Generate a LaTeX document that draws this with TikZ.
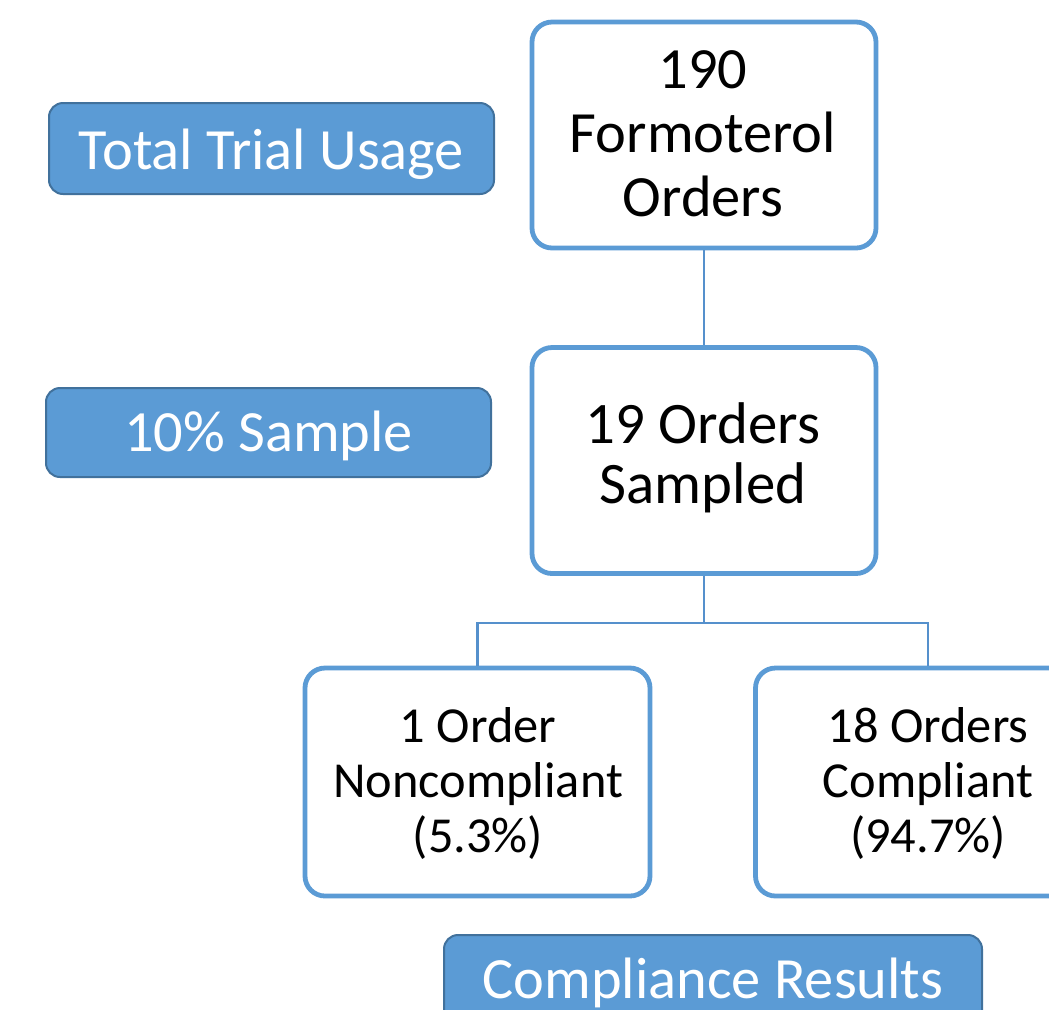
\documentclass[tikz,border=0pt]{standalone}
\usepackage{fontspec}
\setmainfont{Carlito}
\definecolor{boxblue}{HTML}{5B9BD5}
\definecolor{labelborder}{HTML}{41719C}
\definecolor{linkblue}{HTML}{5590CC}
\begin{document}
\begin{tikzpicture}[x=0.5pt,y=-0.5pt,
  whitebox/.style={draw=boxblue, line width=2.4pt, fill=white, rounded corners=10pt, inner sep=0pt},
  bigbox/.style={whitebox, minimum width=172pt, minimum height=113pt},
  smallbox/.style={whitebox, minimum width=172.5pt, minimum height=114pt},
  bigtext/.style={align=center, inner sep=0pt, anchor=base, font=\fontsize{29.2}{32}\selectfont},
  midtext/.style={bigtext, font=\fontsize{29.4}{30}\selectfont},
  smalltext/.style={align=center, inner sep=0pt, anchor=base, font=\fontsize{25.2}{27.5}\selectfont},
  labelbox/.style={draw=labelborder, line width=1pt, fill=boxblue, rounded corners=7pt, inner sep=0pt},
  labeltext/.style={text=white, inner sep=0pt, anchor=base, font=\fontsize{29.2}{32}\selectfont},
  link/.style={draw=linkblue, line width=1.1pt}]
\useasboundingbox (0,0) rectangle (1049,1009);
\clip (0,0) rectangle (1049,1009);
\fill[white] (0,0) rectangle (1049,1009);
\coordinate (split) at (704,623);
\node[bigbox] (top) at (704,135) {};
\node[bigbox] (mid) at (704,460.5) {};
\node[smallbox] (left) at (477.5,782) {};
\node[smallbox] (right) at (928,782) {};
\node[bigtext] (toptext) at (703,216.5) {190\\Formoterol\\Orders};
\node[midtext] (midtext) at (703,503.3) {19 Orders\\Sampled};
\node[smalltext] (lefttext) at (478,852) {1 Order\\Noncompliant\\(5.3\%)};
\node[smalltext] (righttext) at (928,852) {18 Orders\\Compliant\\(94.7\%)};
\draw[link] (top.south) -- (mid.north);
\draw[link] (mid.south) -- (split);
\draw[link] (split) -- (split -| left.north) -- (left.north);
\draw[link] (split) -- (split -| right.north) -- (right.north);
\node[labelbox, minimum width=222.5pt, minimum height=45.5pt] (usage) at (271.5,148.5) {};
\node[labeltext] (usagetext) at (271.5,169) {Total Trial Usage};
\node[labelbox, minimum width=222.5pt, minimum height=44.5pt] (sample) at (268.5,432.5) {};
\node[labeltext] (sampletext) at (268.5,451.7) {10\% Sample};
\node[labelbox, minimum width=269pt, minimum height=45pt] (results) at (713,980) {};
\node[labeltext] (resultstext) at (713,998) {Compliance Results};
\end{tikzpicture}
\end{document}
